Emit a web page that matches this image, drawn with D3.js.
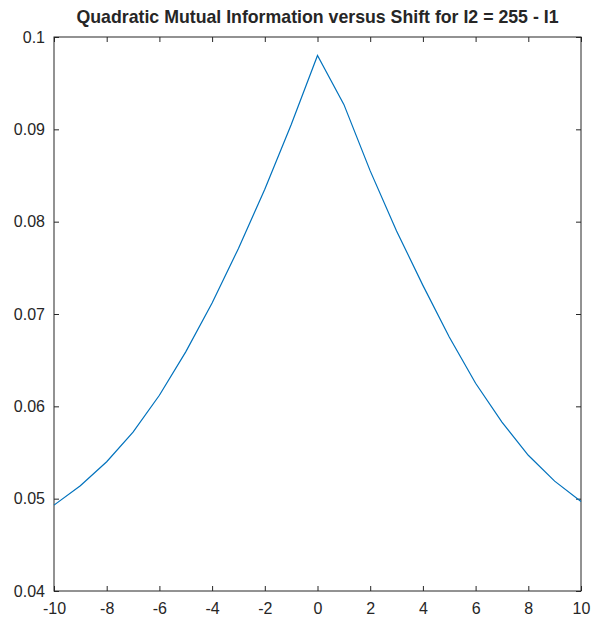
<!DOCTYPE html>
<html>
<head>
<meta charset="utf-8">
<script src="https://cdn.jsdelivr.net/npm/d3@7"></script>
<style>
  html, body { margin: 0; padding: 0; background: #fff; }
  svg { display: block; }
  text { font-family: "Liberation Sans", Arial, sans-serif; fill: #262626; }
</style>
</head>
<body>
<svg id="chart" width="603" height="628"></svg>
<script>
// Shift applied to I1 (pixels) and the resulting quadratic mutual information
const shifts = [-10, -9, -8, -7, -6, -5, -4, -3, -2, -1, 0, 1, 2, 3, 4, 5, 6, 7, 8, 9, 10];
const qmi = [0.0493, 0.0514, 0.0540, 0.0572, 0.0612, 0.0659, 0.0712, 0.0771, 0.0835, 0.0905, 0.0980,
             0.0927, 0.0855, 0.0790, 0.0731, 0.0675, 0.0625, 0.0583, 0.0547, 0.0519, 0.0497];
const xTicks = [-10, -8, -6, -4, -2, 0, 2, 4, 6, 8, 10];
const yTicks = [0.04, 0.05, 0.06, 0.07, 0.08, 0.09, 0.1];
const titleText = "Quadratic Mutual Information versus Shift for I2 = 255 - I1";

const svg = d3.select("#chart");
const m = { left: 54, right: 581, top: 37, bottom: 591 };

const x = d3.scaleLinear().domain([-10, 10]).range([m.left, m.right]);
const y = d3.scaleLinear().domain([0.04, 0.1]).range([m.bottom, m.top]);

const tickLen = 5;
const axisColor = "#262626";

// Bottom and left axes with inward ticks
const gx = svg.append("g").attr("transform", `translate(0,${m.bottom})`)
  .call(d3.axisBottom(x).tickValues(xTicks).tickSizeInner(-tickLen).tickSizeOuter(0).tickPadding(12)
    .tickFormat(d => String(d)));
const gy = svg.append("g").attr("transform", `translate(${m.left},0)`)
  .call(d3.axisLeft(y).tickValues(yTicks).tickSizeInner(-tickLen).tickSizeOuter(0).tickPadding(9)
    .tickFormat(d => String(+d.toFixed(2))));

// Top and right mirrored tick marks
svg.append("g").attr("transform", `translate(0,${m.top})`)
  .call(d3.axisTop(x).tickValues(xTicks).tickSizeInner(-tickLen).tickSizeOuter(0).tickFormat(""));
svg.append("g").attr("transform", `translate(${m.right},0)`)
  .call(d3.axisRight(y).tickValues(yTicks).tickSizeInner(-tickLen).tickSizeOuter(0).tickFormat(""));

svg.selectAll(".domain").remove();
svg.selectAll(".tick line").attr("stroke", axisColor).attr("stroke-width", 1);
svg.selectAll(".tick text").attr("font-size", 16).attr("fill", axisColor)
  .style("font-family", "'Liberation Sans', Arial, sans-serif");
gx.selectAll(".tick text").attr("dy", "0.71em");

// Axes box
svg.append("rect")
  .attr("x", m.left).attr("y", m.top)
  .attr("width", m.right - m.left).attr("height", m.bottom - m.top)
  .attr("fill", "none").attr("stroke", axisColor).attr("stroke-width", 1);

// Data line
const line = d3.line().x((d, i) => x(shifts[i])).y(d => y(d));
svg.append("path")
  .datum(qmi)
  .attr("d", line)
  .attr("fill", "none")
  .attr("stroke", "#0072BD")
  .attr("stroke-width", 1.2);

// Title
svg.append("text")
  .attr("x", (m.left + m.right) / 2)
  .attr("y", 23)
  .attr("text-anchor", "middle")
  .attr("font-size", 19)
  .attr("font-weight", "bold")
  .attr("fill", "#000")
  .attr("textLength", 482)
  .attr("lengthAdjust", "spacingAndGlyphs")
  .text(titleText);
</script>
</body>
</html>
